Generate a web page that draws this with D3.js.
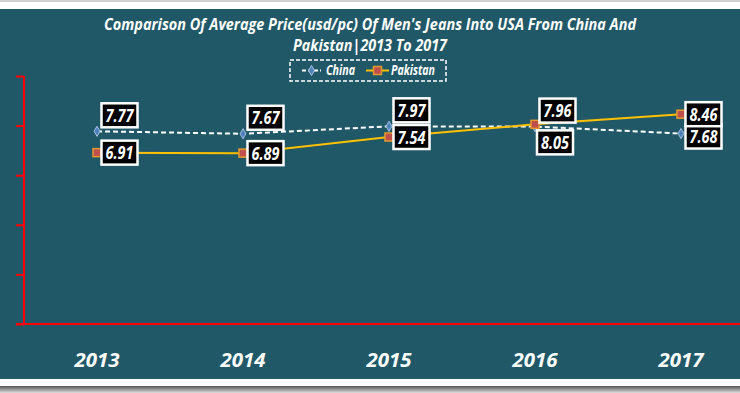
<html>
<head>
<meta charset="utf-8">
<script src="https://d3js.org/d3.v7.min.js"></script>
<style>
  body { margin: 0; background: #fff; }
  text { font-family: "Liberation Sans Narrow", "Open Sans", "DejaVu Sans Condensed", sans-serif; }
</style>
</head>
<body>
<script>
// data
var years = ["2013", "2014", "2015", "2016", "2017"];
var china = [7.77, 7.67, 7.97, 7.96, 7.68];
var pakistan = [6.91, 6.89, 7.54, 8.05, 8.46];
var yTicks = [0, 2, 4, 6, 8, 10];
var titleLines = ["Comparison Of Average Price(usd/pc) Of Men's Jeans Into USA From China And",
                  "Pakistan|2013 To 2017"];

// where each data label sits relative to its point
var chinaLabelPos = ["above", "above", "above", "above", "rightLow"];
var pakistanLabelPos = ["right", "right", "right", "below", "right"];

var width = 740, height = 393;
var bg = "#215868";

var svg = d3.select("body").append("svg").attr("width", width).attr("height", height);

// frame
svg.append("rect").attr("x", 0).attr("y", 0).attr("width", width).attr("height", height).attr("fill", "#fff");
svg.append("rect").attr("x", 0).attr("y", 0).attr("width", width).attr("height", 2).attr("fill", "#d0d0d0");
svg.append("rect").attr("x", 0).attr("y", 9).attr("width", width).attr("height", 370).attr("fill", bg);
var grad = svg.append("defs").append("linearGradient").attr("id", "shade").attr("x1", 0).attr("x2", 0).attr("y1", 0).attr("y2", 1);
grad.append("stop").attr("offset", "0%").attr("stop-color", "#555");
grad.append("stop").attr("offset", "100%").attr("stop-color", "#ddd");
svg.append("rect").attr("x", 0).attr("y", 386).attr("width", width).attr("height", 7).attr("fill", "url(#shade)");

// scales
var xScale = d3.scaleBand().domain(years).range([24, 754]);
var yScale = d3.scaleLinear().domain([0, 10]).range([324, 76]);
function px(i) { return xScale(years[i]) + xScale.bandwidth() / 2; }

function boldItalic(sel, size, len) {
    sel.attr("fill", "#fff")
        .attr("font-size", size)
        .attr("font-weight", "bold")
        .attr("font-style", "italic");
    if (len) sel.attr("textLength", len).attr("lengthAdjust", "spacingAndGlyphs");
    return sel;
}

// title
svg.append("g").selectAll("text").data(titleLines).enter().append("text")
    .attr("x", width / 2)
    .attr("y", function(d, i) { return 30 + i * 21; })
    .attr("text-anchor", "middle")
    .call(boldItalic, 16)
    .attr("textLength", function(d, i) { return i == 0 ? 532 : 154; })
    .attr("lengthAdjust", "spacingAndGlyphs")
    .text(function(d) { return d; });

// y axis (labels sit outside the visible area in the original)
var yAxis = svg.append("g")
    .attr("transform", "translate(24,0)")
    .call(d3.axisLeft(yScale).tickValues(yTicks).tickSize(8).tickFormat(""));
yAxis.select(".domain").attr("stroke", "#ff0000").attr("stroke-width", 2).attr("d", "M0,76V324");
yAxis.selectAll(".tick line").attr("stroke", "#ff0000").attr("stroke-width", 2);

// x axis line
svg.append("line").attr("x1", 16).attr("x2", width).attr("y1", yScale(0)).attr("y2", yScale(0))
    .attr("stroke", "#ff0000").attr("stroke-width", 2);

// year labels
var xAxis = svg.append("g")
    .attr("transform", "translate(0,367)")
    .call(d3.axisBottom(xScale).tickSize(0).tickPadding(0));
xAxis.select(".domain").remove();
xAxis.selectAll(".tick text")
    .call(boldItalic, 20, 45)
    .attr("dy", 0)
    .attr("font-family", null);

// lines
var line = d3.line().x(function(d, i) { return px(i); }).y(function(d) { return yScale(d); });

svg.append("path").datum(china).attr("d", line)
    .attr("fill", "none").attr("stroke", "#fff").attr("stroke-width", 2).attr("stroke-dasharray", "5,3");
svg.append("path").datum(pakistan).attr("d", line)
    .attr("fill", "none").attr("stroke", "#ffc000").attr("stroke-width", 2);

// markers
var diamond = d3.symbol().type(d3.symbolDiamond).size(30);
svg.append("g").selectAll("path").data(china).enter().append("path")
    .attr("d", diamond)
    .attr("transform", function(d, i) { return "translate(" + px(i) + "," + yScale(d) + ")"; })
    .attr("fill", "#4f81bd").attr("stroke", "#a7c0e0").attr("stroke-width", 1);
svg.append("g").selectAll("rect").data(pakistan).enter().append("rect")
    .attr("x", function(d, i) { return px(i) - 4; })
    .attr("y", function(d) { return yScale(d) - 4; })
    .attr("width", 8).attr("height", 8)
    .attr("fill", "#c0504d").attr("stroke", "#e59a2b").attr("stroke-width", 1.5);

// data labels
var labelShift = { above: [22.5, -16], below: [20, 18], right: [22.5, 0], rightLow: [22.5, 3] };
function drawLabels(values, pos) {
    var g = svg.append("g").selectAll("g").data(values).enter().append("g")
        .attr("transform", function(d, i) {
            var s = labelShift[pos[i]];
            return "translate(" + (px(i) + s[0]) + "," + (yScale(d) + s[1]) + ")";
        });
    g.append("rect").attr("x", -18).attr("y", -12).attr("width", 36).attr("height", 24)
        .attr("fill", "#000").attr("stroke", "#fff").attr("stroke-width", 2.5);
    g.append("text").attr("text-anchor", "middle").attr("dy", 6.5)
        .call(boldItalic, 18, 28)
        .text(function(d) { return d3.format(".2f")(d); });
}
drawLabels(china, chinaLabelPos);
drawLabels(pakistan, pakistanLabelPos);

// legend
var legend = svg.append("g");
legend.append("rect").attr("x", 290).attr("y", 60).attr("width", 156).attr("height", 21)
    .attr("fill", "none").attr("stroke", "#fff").attr("stroke-width", 1.5).attr("stroke-dasharray", "4,2");
legend.append("line").attr("x1", 302).attr("x2", 321).attr("y1", 70.5).attr("y2", 70.5)
    .attr("stroke", "#fff").attr("stroke-width", 2).attr("stroke-dasharray", "4,2");
legend.append("path").attr("d", diamond).attr("transform", "translate(311.5,70.5)")
    .attr("fill", "#4f81bd").attr("stroke", "#a7c0e0");
legend.append("text").attr("x", 326).attr("y", 75).call(boldItalic, 14, 29).text("China");
legend.append("line").attr("x1", 366).attr("x2", 389).attr("y1", 70.5).attr("y2", 70.5)
    .attr("stroke", "#ffc000").attr("stroke-width", 2);
legend.append("rect").attr("x", 373.5).attr("y", 66.5).attr("width", 8).attr("height", 8)
    .attr("fill", "#c0504d").attr("stroke", "#e59a2b").attr("stroke-width", 1.5);
legend.append("text").attr("x", 391).attr("y", 75).call(boldItalic, 14, 44).text("Pakistan");
</script>
</body>
</html>
